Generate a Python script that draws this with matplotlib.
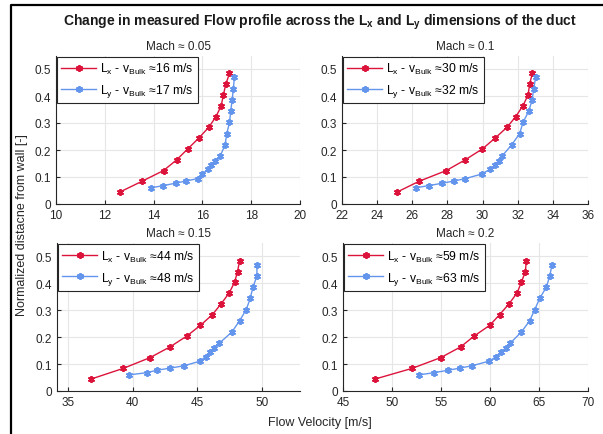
import numpy as np
import matplotlib.pyplot as plt
from matplotlib.lines import Line2D

plt.rcParams['font.family'] = ['Liberation Sans', 'DejaVu Sans']
plt.rcParams['mathtext.fontset'] = 'custom'
plt.rcParams['mathtext.rm'] = 'Liberation Sans'
plt.rcParams['mathtext.bf'] = 'Liberation Sans:bold'

# normalized wall distance of the probe points
y_lx = [0.044, 0.084, 0.124, 0.164, 0.204, 0.244, 0.284, 0.324, 0.364, 0.404, 0.444, 0.484]
y_ly = [0.060, 0.068, 0.077, 0.085, 0.094, 0.111, 0.128, 0.145, 0.161, 0.178,
        0.219, 0.261, 0.302, 0.344, 0.386, 0.427, 0.469]

# measured velocities [m/s]
u_lx_005 = [12.61, 13.52, 14.41, 14.95, 15.40, 15.85, 16.26, 16.56, 16.77, 16.86, 16.96, 17.11]
u_ly_005 = [13.90, 14.39, 14.90, 15.31, 15.81, 16.00, 16.21, 16.36, 16.52, 16.73,
            16.93, 17.00, 17.11, 17.16, 17.22, 17.27, 17.31]
u_lx_010 = [25.13, 26.38, 27.94, 29.02, 29.99, 30.71, 31.39, 31.89, 32.30, 32.59, 32.68, 32.83]
u_ly_010 = [26.19, 26.93, 27.71, 28.36, 29.02, 29.95, 30.41, 30.73, 30.92, 31.11,
            31.66, 32.11, 32.30, 32.63, 32.82, 32.91, 33.02]
u_lx_015 = [36.76, 39.27, 41.34, 42.89, 44.18, 45.24, 46.17, 46.84, 47.46, 47.88, 48.11, 48.27]
u_ly_015 = [39.73, 41.08, 41.85, 42.89, 44.00, 45.21, 45.65, 45.99, 46.30, 46.71,
            47.67, 48.27, 48.78, 49.09, 49.30, 49.61, 49.61]
u_lx_020 = [48.23, 52.04, 54.97, 57.01, 58.37, 59.97, 60.99, 61.94, 62.76, 63.20, 63.61, 63.71]
u_ly_020 = [52.76, 54.29, 55.71, 56.90, 58.20, 59.90, 60.65, 61.16, 61.67, 62.07,
            63.20, 64.05, 64.56, 65.07, 65.75, 66.09, 66.33]

mach_labels = ['0.05', '0.1', '0.15', '0.2']
bulk_lx = [16, 30, 44, 59]
bulk_ly = [17, 32, 48, 63]

panels = [
    (u_lx_005, u_ly_005, (10, 20), np.arange(10, 21, 2)),
    (u_lx_010, u_ly_010, (22, 36), np.arange(22, 37, 2)),
    (u_lx_015, u_ly_015, (34.15, 52.94), np.arange(35, 51, 5)),
    (u_lx_020, u_ly_020, (45, 70), np.arange(45, 71, 5)),
]

W, H = 603, 435
fig = plt.figure(figsize=(W / 100, H / 100), dpi=100)

# axes boxes in pixels: left, top, right, bottom
boxes = [(56, 56.5, 300, 205), (342, 56.5, 588, 205),
         (57, 244, 300, 392), (343, 244, 588, 392)]

red = '#DC143C'
blue = '#6495ED'
dark = '#262626'

for i, (ux, uy, xl, xt) in enumerate(panels):
    l, t, r, b = boxes[i]
    ax = fig.add_axes([l / W, 1 - b / H, (r - l) / W, (b - t) / H])
    ax.plot(ux, y_lx, color=red, lw=1.0, marker=(6, 2, 0), ms=5, mew=1.3,
            label='L$_\\mathrm{x}$ - v$_\\mathrm{Bulk}$ \u2248%d m/s' % bulk_lx[i])
    ax.plot(uy, y_ly, color=blue, lw=1.0, marker=(6, 2, 0), ms=5, mew=1.3,
            label='L$_\\mathrm{y}$ - v$_\\mathrm{Bulk}$ \u2248%d m/s' % bulk_ly[i])
    ax.set_xlim(*xl)
    ax.set_ylim(0, 0.55)
    ax.set_xticks(xt)
    ax.set_yticks([0, 0.1, 0.2, 0.3, 0.4, 0.5])
    ax.set_yticklabels(['0', '0.1', '0.2', '0.3', '0.4', '0.5'])
    ax.grid(True, color='#E6E6E6', lw=0.8)
    ax.set_axisbelow(True)
    for s in ['top', 'right']:
        ax.spines[s].set_visible(False)
    for s in ['left', 'bottom']:
        ax.spines[s].set_color(dark)
        ax.spines[s].set_linewidth(0.8)
    ax.tick_params(direction='in', length=3, width=0.8, color=dark,
                   labelcolor=dark, labelsize=8.5)
    ax.set_title('Mach \u2248 %s' % mach_labels[i], fontsize=8.5,
                 color=dark, pad=5)
    leg = ax.legend(loc='upper left', fontsize=8.7, handlelength=2.9,
                    borderaxespad=0.1, fancybox=False, framealpha=1,
                    borderpad=0.35, labelspacing=0.5, handletextpad=0.3)
    leg.get_frame().set_edgecolor(dark)
    leg.get_frame().set_linewidth(0.8)

fig.text(0.53, 1 - 22 / H, r'Change in measured Flow profile across the L$_\mathbf{x}$ and L$_\mathbf{y}$ dimensions of the duct',
         ha='center', va='center', fontsize=10, fontweight='bold', color='#1a1a1a')
fig.text(320 / W, 1 - 423 / H, 'Flow Velocity [m/s]', ha='center', va='center',
         fontsize=9, color=dark)
fig.text(22 / W, 1 - 225 / H, 'Normalized distacne from wall [-]', ha='center',
         va='center', rotation=90, fontsize=9, color=dark)

# figure frame, only left and top edges are in view
fig.add_artist(Line2D([11 / W, 11 / W, 1.0], [0, 1 - 6 / H, 1 - 6 / H],
                      transform=fig.transFigure, color='black', lw=1.6))

fig.savefig('out.png', dpi=100)
